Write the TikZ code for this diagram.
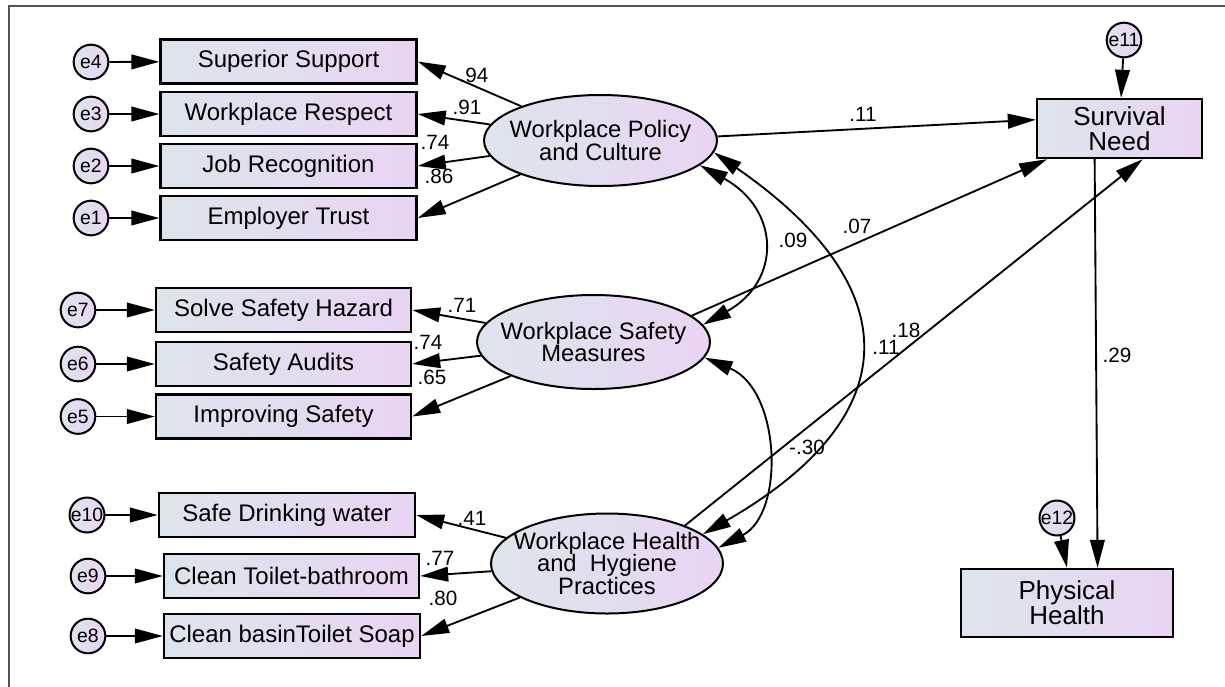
\documentclass[tikz,border=0pt]{standalone}
\usepackage{fontspec}
\setmainfont{Liberation Sans}
\usepackage{tikz}
\usetikzlibrary{arrows.meta,shapes.geometric}
\definecolor{boxleft}{RGB}{221,229,236}
\definecolor{boxright}{RGB}{234,212,243}
\definecolor{framegray}{RGB}{85,85,85}

\begin{document}
\begin{tikzpicture}[x=0.75pt,y=0.75pt,yscale=-1,xscale=1,
        obs/.style={draw,line width=1.8pt,left color=boxleft,right color=boxright,inner sep=0pt,minimum height=33pt,font=\fontsize{18}{18}\selectfont},
        lat/.style={ellipse,draw,line width=1.5pt,left color=boxleft,right color=boxright,minimum width=174.75pt,inner sep=0pt},
        lattext/.style={align=center,inner sep=0pt,font=\fontsize{17.8}{17}\selectfont},
        err/.style={circle,draw,line width=1.5pt,left color=boxleft,right color=boxright,minimum size=26pt,inner sep=0pt,font=\fontsize{14.5}{14.5}\selectfont},
        regline/.style={line width=1.4pt,-{Triangle[length=21pt,width=11pt]}},
        covline/.style={line width=1.4pt,{Triangle[length=21pt,width=11pt]}-{Triangle[length=21pt,width=11pt]}},
        coef/.style={inner sep=0pt,font=\fontsize{15.5}{15.5}\selectfont}]
        \useasboundingbox (0,0) rectangle (1225,686);
        %frame
        \draw [framegray,line width=1.2pt] (9,700) -- (9,6) -- (1240,6) ;

        %Observed: policy and culture
        \node [obs,minimum width=192pt] (ss) at (288.5,61.5) {Superior Support};
        \node [obs,minimum width=192pt] (wr) at (288.5,114) {Workplace Respect};
        \node [obs,minimum width=192pt] (jr) at (288.5,166) {Job Recognition};
        \node [obs,minimum width=192pt] (et) at (288.5,218) {Employer Trust};
        %Observed: safety
        \node [obs,minimum width=191.25pt] (sh) at (283.5,310) {Solve Safety Hazard};
        \node [obs,minimum width=191.25pt] (sa) at (283.5,364) {Safety Audits};
        \node [obs,minimum width=191.25pt] (is) at (283.5,416.5) {Improving Safety};
        %Observed: health and hygiene
        \node [obs,minimum width=192pt] (sd) at (287,515) {Safe Drinking water};
        \node [obs,minimum width=191.25pt] (ct) at (291.5,576) {Clean Toilet-bathroom};
        \node [obs,minimum width=192pt] (cb) at (292,636) {Clean basinToilet Soap};
        %Outcomes
        \node [obs,minimum width=123.75pt,minimum height=44.25pt,align=center,font=\fontsize{19.5}{19}\selectfont] (sn) at (1119.5,128.5) {Survival\\Need};
        \node [obs,minimum width=159pt,minimum height=51pt,align=center,font=\fontsize{19.5}{19}\selectfont] (ph) at (1067,603) {Physical\\Health};

        %Latent
        \node [lat,minimum height=68.25pt,label={[lattext]center:{Workplace Policy\\and Culture}}] (pol) at (600.5,140.5) {};
        \node [lat,minimum height=70.5pt,label={[lattext]center:{Workplace Safety\\Measures}}] (saf) at (593.5,342) {};
        \node [lat,minimum width=174pt,minimum height=75pt,label={[lattext]center:{Workplace Health\\and~ Hygiene\\Practices}}] (hea) at (607,563.5) {};

        %Errors
        \node [err] (e4) at (91,62) {e4};
        \node [err] (e3) at (91,114) {e3};
        \node [err] (e2) at (91,166) {e2};
        \node [err] (e1) at (91,218) {e1};
        \node [err] (e7) at (78,310) {e7};
        \node [err] (e6) at (78,364) {e6};
        \node [err] (e5) at (78,416.5) {e5};
        \node [err] (e10) at (87,515) {e10};
        \node [err] (e9) at (88,576) {e9};
        \node [err] (e8) at (88,636) {e8};
        \node [err] (e11) at (1124,40) {e11};
        \node [err] (e12) at (1057,518) {e12};

        \draw [regline] (e4) -- (ss);
        \draw [regline] (e3) -- (wr);
        \draw [regline] (e2) -- (jr);
        \draw [regline] (e1) -- (et);
        \draw [regline] (e7) -- (sh);
        \draw [regline] (e6) -- (sa);
        \draw [regline] (e5) -- (is);
        \draw [regline] (e10) -- (sd);
        \draw [regline] (e9) -- (ct);
        \draw [regline] (e8) -- (cb);
        \draw [regline] (e11) -- (sn);
        \draw [regline] (e12) -- (ph.north);

        %Loadings
        \draw [regline] (pol) -- (ss.east);
        \draw [regline] (pol) -- (wr.east);
        \draw [regline] (pol) -- (jr.east);
        \draw [regline] (pol) -- (et.east);
        \draw [regline] (saf) -- (sh.east);
        \draw [regline] (saf) -- (sa.east);
        \draw [regline] (saf) -- (is.east);
        \draw [regline] (hea) -- (sd.east);
        \draw [regline] (hea) -- (ct.east);
        \draw [regline] (hea) -- (cb.east);

        %Structural paths
        \draw [regline] (pol.2) -- (sn.174);
        \draw [regline] (saf.15) -- (sn.203);
        \draw [regline] (hea.26) -- (sn.307);
        \draw [regline] (sn.231) -- (ph.49);

        %Curve Lines
        \draw [covline] (pol.-14) .. controls +(80,44) and +(79,-44) .. (saf.9);
        \draw [covline] (pol.-6) .. controls +(195,135) and +(205,-118) .. (hea.17);
        \draw [covline] (saf.-8) .. controls +(76,32) and +(67,-35) .. (hea.8);

        % Text Node
        \node [coef] (c94) at (474,75) {.94};
        \node [coef] (c91) at (467,107) {.91};
        \node [coef] (c74a) at (435,142) {.74};
        \node [coef] (c86) at (439,176) {.86};
        \node [coef] (c71) at (462,305) {.71};
        \node [coef] (c74b) at (428,342) {.74};
        \node [coef] (c65) at (432,377) {.65};
        \node [coef] (c41) at (472,518) {.41};
        \node [coef] (c77) at (440,558) {.77};
        \node [coef] (c80) at (443,598) {.80};
        \node [coef] (c11a) at (863,114) {.11};
        \node [coef] (c07) at (857,226) {.07};
        \node [coef] (c09) at (793,240) {.09};
        \node [coef] (c18) at (906,330.5) {.18};
        \node [coef] (c11b) at (886,347.5) {.11};
        \node [coef] (c30) at (807,447) {-.30};
        \node [coef] (c29) at (1117,355) {.29};
\end{tikzpicture}
\end{document}
